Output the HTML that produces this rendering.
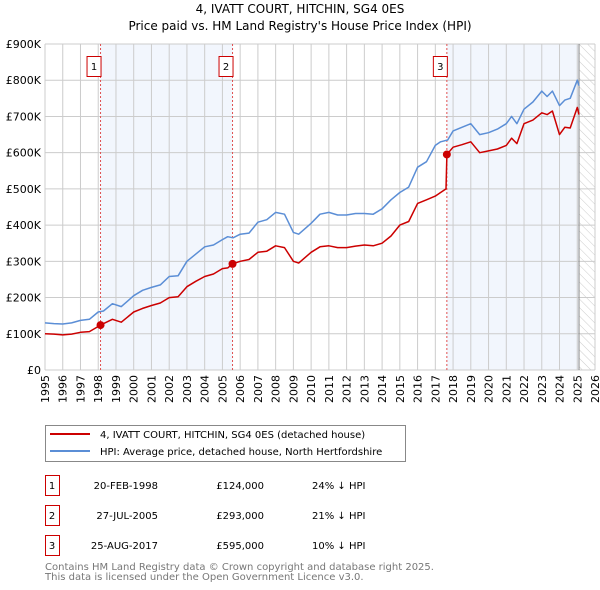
<!DOCTYPE html>
<html><head><meta charset="utf-8"><style>
body{margin:0;background:#fff;}
svg{display:block;font-family:"DejaVu Sans","Liberation Sans",sans-serif;}
</style></head><body>
<svg id="c" width="600" height="590" viewBox="0 0 600 590" xmlns="http://www.w3.org/2000/svg">
<text x="300" y="13" text-anchor="middle" font-size="12">4, IVATT COURT, HITCHIN, SG4 0ES</text>
<text x="300" y="30" text-anchor="middle" font-size="12">Price paid vs. HM Land Registry's House Price Index (HPI)</text>
<g id="plot"></g>
<g>
<rect x="45.5" y="425.5" width="360" height="36" fill="#fff" stroke="#888"/>
<line x1="50" y1="434" x2="90" y2="434" stroke="#cc0000" stroke-width="2"/>
<text x="100" y="438" font-size="10">4, IVATT COURT, HITCHIN, SG4 0ES (detached house)</text>
<line x1="50" y1="451" x2="90" y2="451" stroke="#5b8ed6" stroke-width="2"/>
<text x="100" y="455" font-size="10">HPI: Average price, detached house, North Hertfordshire</text>
</g>
<g id="table" font-size="10"></g>
<text x="45" y="570" font-size="10" fill="#777">Contains HM Land Registry data © Crown copyright and database right 2025.</text>
<text x="45" y="580" font-size="10" fill="#777">This data is licensed under the Open Government Licence v3.0.</text>
</svg>
<script>
const yearTicks=[1995,1996,1997,1998,1999,2000,2001,2002,2003,2004,2005,2006,2007,2008,2009,2010,2011,2012,2013,2014,2015,2016,2017,2018,2019,2020,2021,2022,2023,2024,2025,2026];
const valueTicks=[0,100,200,300,400,500,600,700,800,900];
const valueTickLabels=["£0","£100K","£200K","£300K","£400K","£500K","£600K","£700K","£800K","£900K"];
const hpiYears=[1995,1995.5,1996,1996.5,1997,1997.5,1998,1998.3,1998.8,1999.3,2000,2000.5,2001,2001.5,2002,2002.5,2003,2003.5,2004,2004.5,2005,2005.3,2005.6,2006,2006.5,2007,2007.5,2008,2008.5,2009,2009.3,2010,2010.5,2011,2011.5,2012,2012.5,2013,2013.5,2014,2014.5,2015,2015.5,2016,2016.5,2017,2017.3,2017.7,2018,2018.5,2019,2019.5,2020,2020.5,2021,2021.3,2021.6,2022,2022.5,2023,2023.3,2023.6,2024,2024.3,2024.6,2025,2025.1];
const hpiValues=[130,128,127,130,137,140,160,163,183,175,205,220,228,235,258,260,300,320,340,345,360,368,365,375,378,408,415,435,430,380,375,405,430,435,428,428,432,432,430,445,470,490,505,560,575,620,630,635,660,670,680,650,655,665,680,700,680,720,740,770,755,770,730,745,750,800,785];
const ppYears=[1995,1995.5,1996,1996.5,1997,1997.5,1998,1998.13,1998.8,1999.3,2000,2000.5,2001,2001.5,2002,2002.5,2003,2003.5,2004,2004.5,2005,2005.3,2005.57,2006,2006.5,2007,2007.5,2008,2008.5,2009,2009.3,2010,2010.5,2011,2011.5,2012,2012.5,2013,2013.5,2014,2014.5,2015,2015.5,2016,2016.5,2017,2017.3,2017.6,2017.65,2018,2018.5,2019,2019.5,2020,2020.5,2021,2021.3,2021.6,2022,2022.5,2023,2023.3,2023.6,2024,2024.3,2024.6,2025,2025.1];
const ppValues=[100,99,97,99,104,106,120,124,140,132,160,170,178,185,200,202,230,245,258,265,280,282,293,300,305,325,328,343,338,300,295,325,340,343,338,338,342,345,343,350,370,400,410,460,470,480,490,500,595,615,622,630,600,605,610,620,640,625,680,690,710,705,715,650,670,668,725,705];
const saleYears=[1998.13,2005.57,2017.65];
const saleValues=[124,293,595];
const saleLabels=["1","2","3"];
const saleDates=["20-FEB-1998","27-JUL-2005","25-AUG-2017"];
const salePrices=["£124,000","£293,000","£595,000"];
const saleDiffs=["24% ↓ HPI","21% ↓ HPI","10% ↓ HPI"];
const dataEnd=2025.1;

const X0=45,X1=595,Y0=370,Y1=44;
const xs=y=>X0+(y-1995)/(2026-1995)*(X1-X0);
const ys=v=>Y0-v/900*(Y0-Y1);
const NS="http://www.w3.org/2000/svg";
const plot=document.getElementById('plot');
function mk(tag,attrs,parent){const e=document.createElementNS(NS,tag);for(const k in attrs)e.setAttribute(k,attrs[k]);(parent||plot).appendChild(e);return e;}
let r=mk('rect',{x:xs(saleYears[0]),y:Y1,width:xs(saleYears[1])-xs(saleYears[0]),height:Y0-Y1,fill:'#f2f6fd'});


r=mk('rect',{x:xs(saleYears[2]),y:Y1,width:xs(dataEnd)-xs(saleYears[2]),height:Y0-Y1,fill:'#f2f6fd'});


const defs=mk('defs',{});
const pat=mk('pattern',{id:'h',width:6,height:6,patternUnits:'userSpaceOnUse',patternTransform:'rotate(-45)'},defs);
mk('line',{x1:0,y1:0,x2:0,y2:6,stroke:'#ccc','stroke-width':1},pat);
r=mk('rect',{x:xs(dataEnd),y:Y1,width:X1-xs(dataEnd),height:Y0-Y1,fill:'url(#h)'});


yearTicks.forEach(t=>{
 const l=mk('line',{x1:xs(t),x2:xs(t),y1:Y1,y2:Y0,stroke:'#ccc','stroke-width':1});
 
 
 const tx=mk('text',{x:0,y:0,'font-size':11,'text-anchor':'end',transform:`translate(${xs(t)+4},${Y0+5}) rotate(-90)`});
 tx.textContent=t;
 
 
});
valueTicks.forEach((v,i)=>{
 const l=mk('line',{x1:X0,x2:X1,y1:ys(v),y2:ys(v),stroke:'#ccc','stroke-width':1});
 
 
 const tx=mk('text',{x:X0-4,y:ys(v)+4,'font-size':11,'text-anchor':'end'});
 tx.textContent=valueTickLabels[i];
 
 
});
let el=mk('line',{x1:xs(dataEnd),x2:xs(dataEnd),y1:Y1,y2:Y0,stroke:'#888','stroke-width':1});


saleYears.forEach((y,i)=>{
 const l=mk('line',{x1:xs(y),x2:xs(y),y1:Y1,y2:Y0,stroke:'#e05050','stroke-width':1,'stroke-dasharray':'2,2'});
 
 
 const b=mk('rect',{x:xs(y)-13.5,y:56.5,width:14,height:20,fill:'#fff',stroke:'#cc0000'});
 
 
 const t=mk('text',{x:xs(y)-6.5,y:70,'font-size':10,'text-anchor':'middle'});
 t.textContent=saleLabels[i];
 
 
});
function line(yrs,vals,color,name){
 const d=yrs.map((y,i)=>(i?'L':'M')+xs(y).toFixed(1)+','+ys(vals[i]).toFixed(1)).join('');
 const p=mk('path',{d:d,fill:'none',stroke:color,'stroke-width':1.5,'stroke-linejoin':'round'});
 
 
}
line(hpiYears,hpiValues,'#5b8ed6','hpi-line');
line(ppYears,ppValues,'#cc0000','price-paid-line');
saleYears.forEach((y,i)=>{
 const c=mk('circle',{cx:xs(y),cy:ys(saleValues[i]),r:4,fill:'#cc0000'});
 
 
});
const tb=document.getElementById('table');
saleLabels.forEach((s,i)=>{
 const yy=475+i*30;
 const b=mk('rect',{x:45.5,y:yy+0.5,width:14,height:20,fill:'#fff',stroke:'#cc0000'},tb);
 
 
 const cells=[[52,s,'middle'],[158,saleDates[i],'end'],[264,salePrices[i],'end'],[312,saleDiffs[i],'start']];
 cells.forEach((c,j)=>{
  const t=mk('text',{x:c[0],y:yy+14,'text-anchor':c[2]},tb);
  t.textContent=c[1];
  
  
 });
});
</script>
</body></html>
